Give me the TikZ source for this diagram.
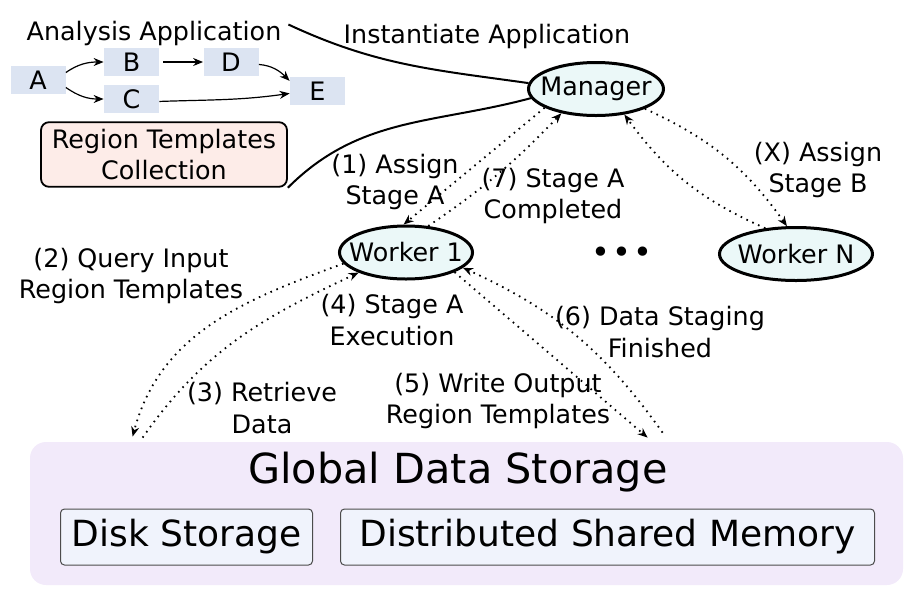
\documentclass[tikz,border=0pt]{standalone}
\usepackage{fontspec}
\setmainfont{DejaVu Sans}
\usepackage{tikz}
\usetikzlibrary{arrows.meta}
\usetikzlibrary{shapes.geometric}

\definecolor{taskblue}{RGB}{220,228,242}
\definecolor{rtpink}{RGB}{253,236,232}
\definecolor{procfill}{RGB}{235,248,248}
\definecolor{storefill}{RGB}{242,234,250}
\definecolor{memfill}{RGB}{240,243,252}

\begin{document}
\begin{tikzpicture}[x=0.5pt, y=-0.5pt,
		task/.style = {fill=taskblue, minimum width=27.5pt, minimum height=14pt, inner sep=0pt},
		proc/.style = {draw, ellipse, line width=1.5pt, fill=procfill, inner sep=0pt, minimum height=26.5pt},
		flow/.style = {line width=0.9pt, dash pattern=on 0.8pt off 2.4pt, -{Stealth[length=5pt,width=4pt]}},
		dep/.style = {line width=0.6pt, -{Stealth[length=5pt,width=4pt]}},
		tie/.style = {line width=1pt},
		mem/.style = {draw=black!70, line width=0.5pt, fill=memfill, rounded corners=2pt, minimum height=28pt, font=\fontsize{18}{22}\selectfont},
		font=\fontsize{12.7}{15.8}\selectfont
			]
		\useasboundingbox (0,0) rectangle (918,596);

		% application graph
		\node (App) at (154,33.5) {Analysis Application};
		\node [task] (A) at (38,80) {A};
		\node [task] (B) at (131.5,62) {B};
		\node [task] (C) at (131.5,99) {C};
		\node [task] (D) at (231,62) {D};
		\node [task] (E) at (317.5,91) {E};

		\draw [dep] (A.15) to[out=35,in=180] (B.west);
		\draw [dep] (A.-15) to[out=-35,in=180] (C.west);
		\draw [dep,shorten <=2pt] (B.east) -- (D.west);
		\draw [dep] (D.-5) to[out=-5,in=135] (E.160);
		\draw [dep] (C.-5) to[out=2,in=188] (E.185);

		\node [draw, rounded corners=4pt, line width=0.9pt, fill=rtpink, minimum width=123pt, minimum height=31pt, align=center] (Collection) at (164,154.5) {Region Templates\\Collection};

		% manager and workers
		\node (Inst) at (487,36) {Instantiate Application};
		\node [proc, minimum width=67.5pt, label=center:Manager] (Manager) at (596,89) {};
		\node [proc, minimum width=66.5pt, label=center:Worker 1] (Worker1) at (406,252.5) {};
		\node [proc, minimum width=76.5pt, label=center:Worker N] (WorkerN) at (796,254) {};
		\node [font=\fontsize{16}{16}\selectfont] (Dots) at (622,255) {•\kern1pt•\kern1pt•};

		\draw [tie] (Manager.175) to[out=172,in=-25] ([yshift=4.5pt]App.east);
		\draw [tie] (Manager.188) to[out=195,in=45] (Collection.south east);

		% storage
		\node [fill=storefill, rounded corners=8pt, minimum width=436.5pt, minimum height=71.5pt] (Storage) at (466.5,513.5) {};
		\node [font=\fontsize{20.7}{24}\selectfont] (StorageTitle) at (458,472) {Global Data Storage};
		\node [mem, minimum width=126pt] (Disk) at (186.5,537) {Disk Storage};
		\node [mem, minimum width=267pt] (DSM) at (607.5,537) {Distributed Shared Memory};

		% messages
		\draw [flow] (Manager.200) -- (Worker1.95);
		\draw [flow] (Worker1.50) to[bend right=6] (Manager.215);
		\draw [flow] (Manager.-22) to[bend left=15] (WorkerN.108);
		\draw [flow] (WorkerN.140) to[bend left=15] (Manager.-42);
		\draw [flow] (Worker1.190) to[out=200,in=75] ([xshift=51.5pt,yshift=2.5pt]Storage.north west);
		\draw [flow] ([xshift=56.5pt,yshift=2pt]Storage.north west) to[out=55,in=205] (Worker1.203);
		\draw [flow] (Worker1.-22) -- ([xshift=309pt,yshift=2pt]Storage.north west);
		\draw [flow] ([xshift=316.5pt,yshift=4.5pt]Storage.north west) to[bend right=15] (Worker1.-15);

		\node [align=center] (AssignA) at (395,182) {(1) Assign\\Stage A};
		\node [align=center] (DoneA) at (553,196) {(7) Stage A\\Completed};
		\node [align=center] (AssignB) at (818,170) {(X) Assign\\Stage B};
		\node [align=center] (Query) at (131,276) {(2) Query Input\\Region Templates};
		\node [align=center] (ExecA) at (392,320) {(4) Stage A\\Execution};
		\node [align=center] (Fetch) at (262,408) {(3) Retrieve\\Data};
		\node [align=center] (Write) at (498,401) {(5) Write Output\\Region Templates};
		\node [align=center] (Staged) at (660,332) {(6) Data Staging\\Finished};

	\end{tikzpicture}
\end{document}
